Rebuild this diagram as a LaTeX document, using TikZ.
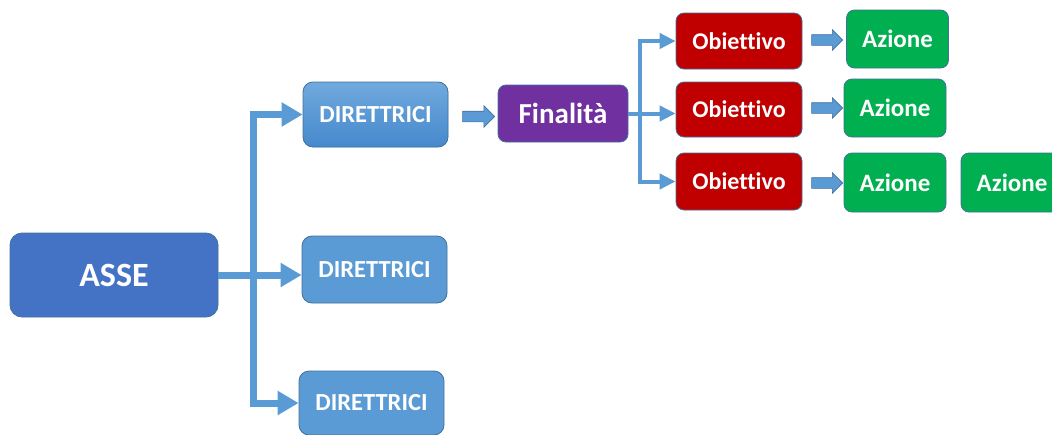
\documentclass[tikz,border=0pt]{standalone}
\usepackage{fontspec}
\setmainfont{Carlito}[Ligatures=NoCommon]
\usetikzlibrary{arrows.meta,shapes.arrows}

\definecolor{asseblue}{HTML}{4472C4}
\definecolor{dirblue}{HTML}{5B9BD5}
\definecolor{dirtop}{HTML}{70A9DD}
\definecolor{dirbot}{HTML}{4689CD}
\definecolor{edgeblue}{HTML}{41719C}
\definecolor{finpurple}{HTML}{7030A0}
\definecolor{objred}{HTML}{C00000}
\definecolor{actgreen}{HTML}{00B050}
\definecolor{linkblue}{HTML}{5B9BD5}

\tikzset{
  box/.style={draw=edgeblue, line width=0.8pt, rounded corners=8pt,
    text=white, font=\bfseries, inner sep=0pt, align=center},
  assebox/.style={box, fill=asseblue, rounded corners=12pt,
    minimum width=208pt, minimum height=84pt, font=\bfseries\fontsize{34}{40}\selectfont},
  dirbox/.style={box, fill=dirblue, rounded corners=10pt,
    minimum width=145pt, minimum height=65pt, font=\bfseries\fontsize{24.5}{29}\selectfont},
  finbox/.style={box, fill=finpurple,
    minimum width=130pt, minimum height=57pt, font=\bfseries\fontsize{29}{34}\selectfont},
  objbox/.style={box, fill=objred,
    minimum width=126pt, minimum height=56pt, font=\bfseries\fontsize{24}{29}\selectfont},
  actbox/.style={box, fill=actgreen,
    minimum width=102pt, minimum height=58pt, font=\bfseries\fontsize{25}{30}\selectfont},
  bigelbow/.style={draw=linkblue, line width=7pt, line join=miter,
    -{Triangle[length=21pt,width=23pt]}},
  smallelbow/.style={draw=linkblue, line width=4pt, line join=miter,
    -{Triangle[length=16pt,width=15pt]}},
  blockarrow/.style={single arrow, draw=edgeblue, fill=linkblue, line width=0.6pt,
    inner xsep=0pt, inner ysep=5pt, single arrow head extend=5.5pt,
    minimum height=32pt, shape border rotate=0},
}

\begin{document}
\begin{tikzpicture}[x=1pt, y=-1pt]
  \useasboundingbox (0,0) rectangle (1052,434);
  \clip (0,0) rectangle (1052,434);

  % axis and its three guidelines
  \node[assebox] (asse) at (114,275) {ASSE};
  \node[dirbox, draw=edgeblue, top color=dirtop, bottom color=dirbot] (d1) at (375.5,114.5) {DIRETTRICI};
  \node[dirbox, minimum height=67pt] (d2) at (374.5,269.5) {DIRETTRICI};
  \node[dirbox, minimum height=64pt] (d3) at (371.5,403) {DIRETTRICI};

  % purpose, objectives and actions
  \node[finbox] (fin) at (563,113.5) {Finalità};
  \node[objbox] (o1) at (739,41) {Obiettivo};
  \node[objbox, minimum height=55pt] (o2) at (739,109.5) {Obiettivo};
  \node[objbox, minimum height=57pt] (o3) at (739,181.5) {Obiettivo};
  \node[actbox] (a1) at (897.5,39) {Azione};
  \node[actbox] (a2) at (895,108) {Azione};
  \node[actbox, minimum height=59pt] (a3) at (895,182.5) {Azione};
  \node[actbox, minimum height=59pt] (a4) at (1012,182.5) {Azione};

  % elbow connectors from the axis
  \draw[bigelbow] (asse.east) -- ++(35,0) |- (d1.west);
  \draw[bigelbow] (asse.east) -- (asse.east -| d2.west);
  \draw[bigelbow] (asse.east) -- ++(35,0) |- (d3.west);

  % elbow connectors from the purpose
  \draw[smallelbow] (fin.east) -- ++(12,0) |- (o1.west);
  \draw[smallelbow] (fin.east) -- (fin.east -| o2.west);
  \draw[smallelbow] (fin.east) -- ++(12,0) |- (o3.west);

  % block arrows
  \node[blockarrow] (b0) at (476,116.5) {};
  \node[blockarrow, minimum height=31pt, single arrow head extend=5pt] (b1) at (824.5,40) {};
  \node[blockarrow, minimum height=31pt, single arrow head extend=5pt] (b2) at (824.5,108) {};
  \node[blockarrow, minimum height=31pt, single arrow head extend=5pt] (b3) at (824.5,183) {};
\end{tikzpicture}
\end{document}
